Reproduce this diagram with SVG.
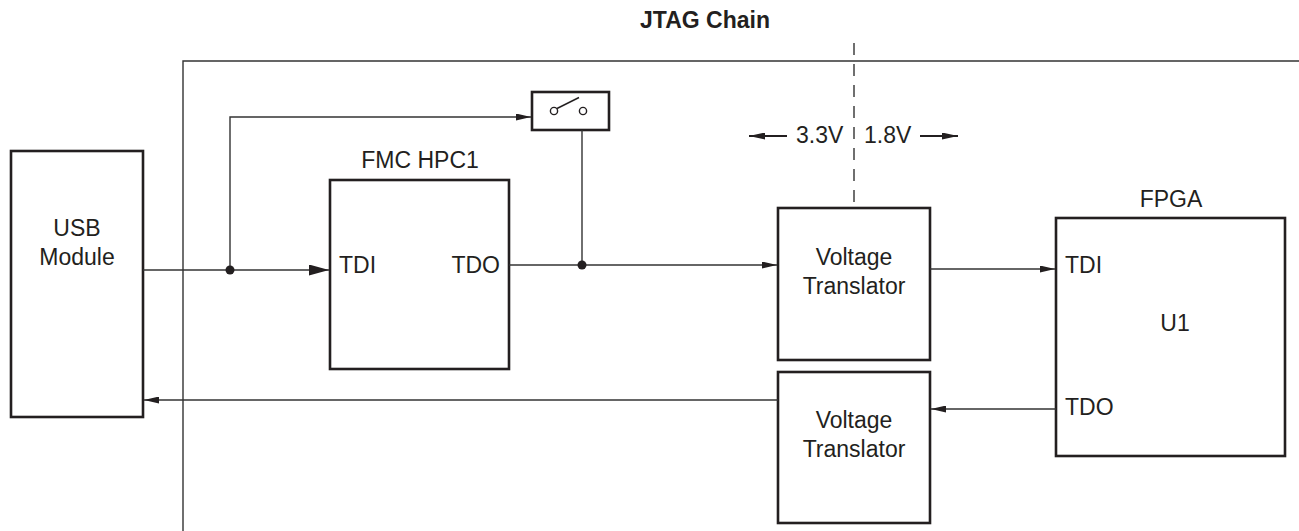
<svg xmlns="http://www.w3.org/2000/svg" width="1299" height="531" viewBox="0 0 1299 531">
<style>
.box{fill:#fff;stroke:#231f20;stroke-width:2.6}
.ln{fill:none;stroke:#333;stroke-width:1.4}
.t{font-family:"Liberation Sans",Arial,Helvetica,sans-serif;font-size:23px;fill:#231f20}
.c{text-anchor:middle}
.b{font-weight:bold}
</style>
<defs>
<marker id="a" markerUnits="userSpaceOnUse" markerWidth="15" markerHeight="7" refX="15" refY="3.5" orient="auto">
<path d="M0,0 L15,3.5 L0,7 z" fill="#231f20"/>
</marker>
<marker id="ab" markerUnits="userSpaceOnUse" markerWidth="20" markerHeight="11" refX="20" refY="5.5" orient="auto">
<path d="M0,0 L20,5.5 L0,11 z" fill="#231f20"/>
</marker>
<marker id="av" markerUnits="userSpaceOnUse" markerWidth="16" markerHeight="7" refX="16" refY="3.5" orient="auto">
<path d="M0,0 L16,3.5 L0,7 z" fill="#231f20"/>
</marker>
</defs>
<text class="t b c" x="705" y="28">JTAG Chain</text>
<g id="frame">
<path class="ln" d="M183,531 V61 H1299"/>
</g>
<g id="voltage-boundary">
<line x1="854" y1="43" x2="854" y2="208" stroke="#333" stroke-width="1.4" stroke-dasharray="12 9"/>
<text class="t" x="796" y="143">3.3V</text>
<text class="t" x="864" y="143">1.8V</text>
<line x1="787" y1="136" x2="749" y2="136" stroke="#231f20" stroke-width="2" marker-end="url(#av)"/>
<line x1="920" y1="136" x2="958" y2="136" stroke="#231f20" stroke-width="2" marker-end="url(#av)"/>
</g>
<g id="usb">
<rect class="box" x="11" y="151" width="132" height="266"/>
<text class="t c" x="77" y="236">USB</text>
<text class="t c" x="77" y="265">Module</text>
</g>
<g id="fmc">
<rect class="box" x="330" y="180" width="179" height="189"/>
<text class="t c" x="420" y="168">FMC HPC1</text>
<text class="t" x="339" y="273">TDI</text>
<text class="t" x="500" y="273" text-anchor="end">TDO</text>
</g>
<g id="switch">
<rect class="box" x="532" y="92" width="77" height="38"/>
<circle cx="554" cy="111" r="3.6" fill="#fff" stroke="#231f20" stroke-width="1.4"/>
<circle cx="583" cy="111" r="3.6" fill="#fff" stroke="#231f20" stroke-width="1.4"/>
<line x1="557" y1="108.5" x2="579" y2="97.5" stroke="#231f20" stroke-width="1.4"/>
</g>
<g id="vt1">
<rect class="box" x="778" y="208" width="152" height="152"/>
<text class="t c" x="854" y="265">Voltage</text>
<text class="t c" x="854" y="294">Translator</text>
</g>
<g id="vt2">
<rect class="box" x="778" y="372" width="152" height="151"/>
<text class="t c" x="854" y="428">Voltage</text>
<text class="t c" x="854" y="457">Translator</text>
</g>
<g id="fpga">
<rect class="box" x="1056" y="218" width="229" height="238"/>
<text class="t c" x="1171" y="207">FPGA</text>
<text class="t" x="1065" y="273">TDI</text>
<text class="t c" x="1175" y="331">U1</text>
<text class="t" x="1065" y="415">TDO</text>
</g>
<g id="connectors">
<line class="ln" x1="143" y1="270" x2="329" y2="270" marker-end="url(#ab)"/>
<path class="ln" d="M230,270 V117 H531" marker-end="url(#a)"/>
<circle cx="230" cy="270" r="4.5" fill="#231f20"/>
<line class="ln" x1="509" y1="265" x2="777" y2="265" marker-end="url(#a)"/>
<line class="ln" x1="582" y1="130" x2="582" y2="265"/>
<circle cx="582" cy="265" r="4.5" fill="#231f20"/>
<line class="ln" x1="930" y1="269" x2="1055" y2="269" marker-end="url(#a)"/>
<line class="ln" x1="1056" y1="409" x2="931" y2="409" marker-end="url(#a)"/>
<line class="ln" x1="778" y1="400" x2="144" y2="400" marker-end="url(#a)"/>
</g>
</svg>
